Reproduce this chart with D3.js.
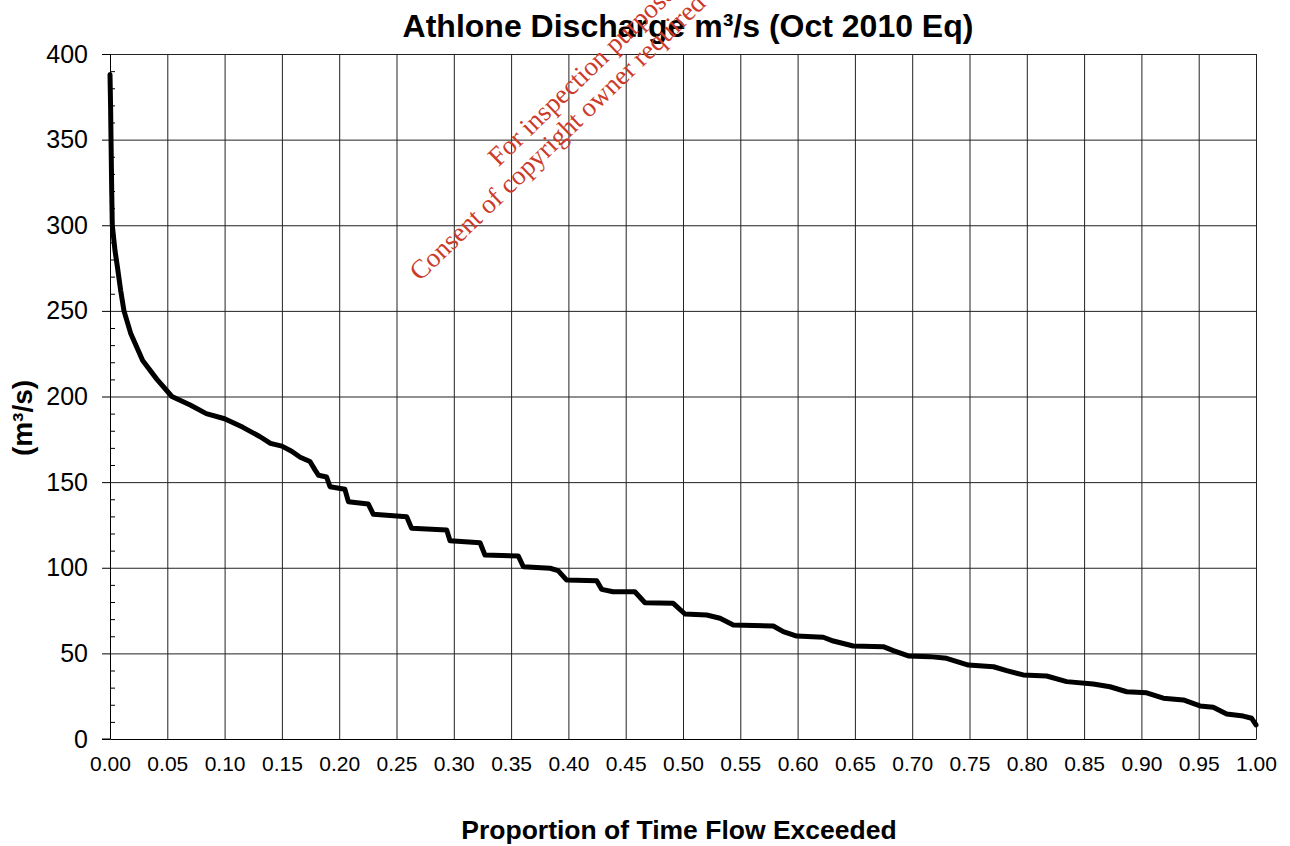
<html>
<head>
  <script src="https://d3js.org/d3.v7.min.js"></script>
  <style>
    body { margin: 0; background: #fff; }
    text { font-family: "Liberation Sans", Arial, sans-serif; fill: #000; }
    .gridlines line { stroke: #222; stroke-width: 1; }
    .gridlines .domain { stroke: none; }
  </style>
</head>
<body>
<svg id="chart" width="1290" height="846"></svg>
<script>
  // flow duration curve
  const proportion = [0, 0.0005, 0.001, 0.0015, 0.002, 0.0044, 0.0064, 0.0093, 0.0122, 0.018,
    0.0285, 0.041, 0.054, 0.07, 0.084, 0.10, 0.116, 0.131, 0.140, 0.15,
    0.1585, 0.166, 0.1745, 0.179, 0.182, 0.189, 0.192, 0.205, 0.208, 0.2254,
    0.2298, 0.2589, 0.2632, 0.2938, 0.2967, 0.3229, 0.3272, 0.3563, 0.3607, 0.384,
    0.391, 0.3985, 0.4247, 0.429, 0.439, 0.458, 0.4668, 0.4915, 0.5017, 0.5207,
    0.5323, 0.5439, 0.5788, 0.5875, 0.5992, 0.6224, 0.6312, 0.6486, 0.6748, 0.6835,
    0.6966, 0.7155, 0.730, 0.749, 0.771, 0.7824, 0.7969, 0.8173, 0.8348, 0.858,
    0.8726, 0.8872, 0.9046, 0.9191, 0.9366, 0.9511, 0.9627, 0.9744, 0.9889, 0.9962, 1.0];
  const discharge = [388, 370, 345, 320, 300, 285, 276, 262, 250, 237,
    221, 210, 200, 195, 190, 187, 182, 176.5, 172.6, 171,
    168, 164.5, 162, 157, 154, 153, 147.3, 145.8, 138.6, 137.2,
    131.2, 129.8, 123, 122, 115.8, 114.6, 107.4, 106.9, 100.6, 99.7,
    98.3, 92.8, 92.4, 87.4, 86, 86, 79.6, 79.2, 73, 72.4,
    70.5, 66.6, 66, 62.7, 60.1, 59.4, 57.2, 54.3, 53.9, 51.6,
    48.5, 48.1, 47.1, 43.2, 42.2, 39.9, 37.4, 36.8, 33.5, 32.1,
    30.5, 27.6, 27, 23.8, 22.8, 19.3, 18.5, 14.6, 13.4, 12.1, 8.2];

  const xTicks = d3.range(0, 21).map(i => i * 0.05);
  const yTicks = [0, 50, 100, 150, 200, 250, 300, 350, 400];
  const yMinorTicks = d3.range(0, 401, 10);

  const titleText = "Athlone Discharge m\u00b3/s (Oct 2010 Eq)";
  const xLabelText = "Proportion of Time Flow Exceeded";
  const yLabelText = "(m\u00b3/s)";
  const watermark = ["For inspection purposes only.", "Consent of copyright owner required for any other use."];

  const svg = d3.select("svg#chart");
  const margin = { top: 54, right: 34, bottom: 107, left: 110 };
  const chartWidth = 1290 - margin.left - margin.right;
  const chartHeight = 846 - margin.top - margin.bottom;

  const xScale = d3.scaleLinear().domain([0, 1]).range([0, chartWidth]);
  const yScale = d3.scaleLinear().domain([0, 400]).range([chartHeight, 0]);

  const chart = svg.append("g")
    .attr("transform", `translate(${margin.left},${margin.top})`);

  // gridlines
  chart.append("g")
    .attr("class", "gridlines")
    .attr("transform", `translate(0,${chartHeight})`)
    .call(d3.axisBottom(xScale).tickValues(xTicks).tickFormat("").tickSize(-chartHeight).tickSizeOuter(0));
  chart.append("g")
    .attr("class", "gridlines")
    .call(d3.axisLeft(yScale).tickValues(yTicks.slice(1)).tickFormat("").tickSize(-chartWidth).tickSizeOuter(0));

  // minor ticks point inwards
  chart.append("g")
    .attr("class", "minor")
    .call(d3.axisRight(yScale).tickValues(yMinorTicks.filter(v => v % 50 != 0)).tickFormat("").tickSize(5).tickSizeOuter(0))
    .call(g => g.select(".domain").remove())
    .selectAll("line").attr("stroke", "#000");

  // y axis
  const leftAxis = chart.append("g")
    .call(d3.axisLeft(yScale).tickValues(yTicks).tickSize(8).tickSizeOuter(0).tickPadding(14));
  leftAxis.select(".domain").attr("stroke", "#000");
  leftAxis.selectAll("text").style("font-size", "25px");

  // x axis
  const bottomAxis = chart.append("g")
    .attr("transform", `translate(0,${chartHeight})`)
    .call(d3.axisBottom(xScale).tickValues(xTicks).tickSize(0).tickSizeOuter(0).tickPadding(17)
      .tickFormat(d3.format(".2f")));
  bottomAxis.select(".domain").attr("stroke", "#000");
  bottomAxis.selectAll("text").style("font-size", "21px");
  chart.append("line")
    .attr("x1", -8).attr("x2", 0)
    .attr("y1", chartHeight).attr("y2", chartHeight)
    .attr("stroke", "#000");

  // the curve
  const points = proportion.map((p, i) => [p, discharge[i]]);
  const line = d3.line()
    .x(d => xScale(d[0]))
    .y(d => yScale(d[1]));
  chart.append("path")
    .datum(points)
    .attr("d", line)
    .attr("fill", "none")
    .attr("stroke", "#000")
    .attr("stroke-width", 5)
    .attr("stroke-linejoin", "round")
    .attr("stroke-linecap", "round");

  // titles
  svg.append("text")
    .attr("x", 688).attr("y", 37)
    .attr("text-anchor", "middle")
    .style("font-size", "32px").style("font-weight", "bold")
    .text(titleText);
  svg.append("text")
    .attr("x", 679).attr("y", 839)
    .attr("text-anchor", "middle")
    .style("font-size", "26.5px").style("font-weight", "bold")
    .text(xLabelText);
  svg.append("text")
    .attr("transform", "translate(32,418) rotate(-90)")
    .attr("text-anchor", "middle")
    .style("font-size", "28px").style("font-weight", "bold")
    .text(yLabelText);

  // red watermark
  const wm = svg.append("g").attr("transform", "translate(420,282) rotate(-44)");
  wm.append("text")
    .attr("x", 136).attr("y", -28)
    .style("font-family", "'Liberation Serif', 'Times New Roman', serif")
    .style("font-size", "27px")
    .style("fill", "#cc3a2a")
    .text(watermark[0]);
  wm.append("text")
    .attr("x", 0).attr("y", 0)
    .style("font-family", "'Liberation Serif', 'Times New Roman', serif")
    .style("font-size", "27px")
    .style("fill", "#cc3a2a")
    .text(watermark[1]);
</script>
</body>
</html>
